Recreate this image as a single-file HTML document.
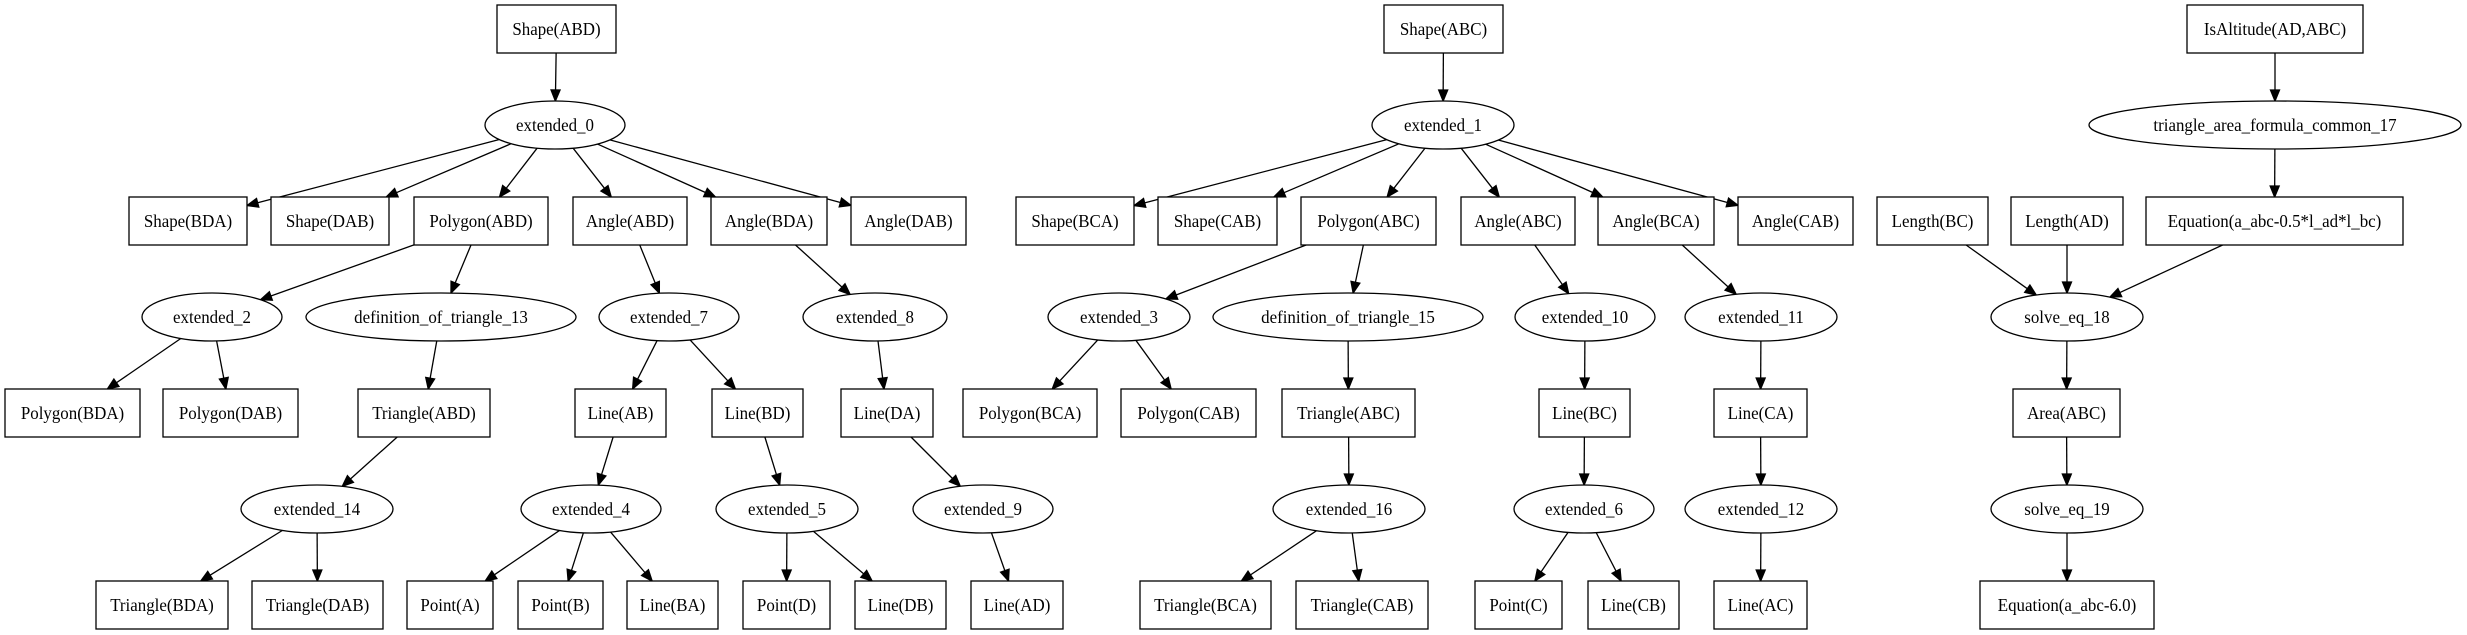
<!DOCTYPE html>
<html><head><meta charset="utf-8"><style>
html,body{margin:0;padding:0;background:#fff;}
svg{display:block;}
text{font-family:"Liberation Serif","Times New Roman",serif;font-size:18px;fill:#000;}
</style></head><body>
<svg id="g" xmlns="http://www.w3.org/2000/svg" width="2467" height="635" viewBox="0 0 2467 635"></svg>
<script>
var N={
sABD:['b',497,616,0,'Shape(ABD)'],e0:['e',555,70,1,'extended_0'],
sBDA:['b',129,247,2,'Shape(BDA)'],sDAB:['b',271,389,2,'Shape(DAB)'],pABD:['b',414,548,2,'Polygon(ABD)'],
aABD:['b',573,687,2,'Angle(ABD)'],aBDA:['b',711,827,2,'Angle(BDA)'],aDAB:['b',851,966,2,'Angle(DAB)'],
e2:['e',212,70,3,'extended_2'],d13:['e',441,135,3,'definition_of_triangle_13'],e7:['e',669,70,3,'extended_7'],e8:['e',875,72,3,'extended_8'],
pBDA:['b',5,140,4,'Polygon(BDA)'],pDAB:['b',163,298,4,'Polygon(DAB)'],tABD:['b',358,490,4,'Triangle(ABD)'],
lAB:['b',575,666,4,'Line(AB)'],lBD:['b',712,803,4,'Line(BD)'],lDA:['b',841,933,4,'Line(DA)'],
e14:['e',317,76,5,'extended_14'],e4:['e',591,70,5,'extended_4'],e5:['e',787,71,5,'extended_5'],e9:['e',983,70,5,'extended_9'],
tBDA:['b',96,228,6,'Triangle(BDA)'],tDAB:['b',252,383,6,'Triangle(DAB)'],ptA:['b',407,493,6,'Point(A)'],ptB:['b',518,603,6,'Point(B)'],
lBA:['b',627,718,6,'Line(BA)'],ptD:['b',743,830,6,'Point(D)'],lDB:['b',855,946,6,'Line(DB)'],lAD:['b',971,1063,6,'Line(AD)'],
sABC:['b',1384,1503,0,'Shape(ABC)'],e1:['e',1443,71,1,'extended_1'],
sBCA:['b',1016,1134,2,'Shape(BCA)'],sCAB:['b',1158,1277,2,'Shape(CAB)'],pABC:['b',1301,1436,2,'Polygon(ABC)'],
aABC:['b',1461,1575,2,'Angle(ABC)'],aBCA:['b',1598,1714,2,'Angle(BCA)'],aCAB:['b',1738,1853,2,'Angle(CAB)'],
e3:['e',1119,71,3,'extended_3'],d15:['e',1348,135,3,'definition_of_triangle_15'],e10:['e',1585,70,3,'extended_10'],e11:['e',1761,76,3,'extended_11'],
pBCA:['b',963,1097,4,'Polygon(BCA)'],pCAB:['b',1121,1256,4,'Polygon(CAB)'],tABC:['b',1282,1415,4,'Triangle(ABC)'],
lBC:['b',1539,1630,4,'Line(BC)'],lCA:['b',1714,1807,4,'Line(CA)'],
e16:['e',1349,76,5,'extended_16'],e6:['e',1584,70,5,'extended_6'],e12:['e',1761,76,5,'extended_12'],
tBCA:['b',1140,1271,6,'Triangle(BCA)'],tCAB:['b',1296,1428,6,'Triangle(CAB)'],ptC:['b',1475,1562,6,'Point(C)'],
lCB:['b',1588,1679,6,'Line(CB)'],lAC:['b',1714,1807,6,'Line(AC)'],
isA:['b',2187,2363,0,'IsAltitude(AD,ABC)'],t17:['e',2275,186,1,'triangle_area_formula_common_17'],
lenBC:['b',1877,1988,2,'Length(BC)'],lenAD:['b',2011,2123,2,'Length(AD)'],eq1:['b',2146,2403,2,'Equation(a_abc-0.5*l_ad*l_bc)'],
s18:['e',2067,76,3,'solve_eq_18'],area:['b',2013,2120,4,'Area(ABC)'],s19:['e',2067,76,5,'solve_eq_19'],eq2:['b',1980,2154,6,'Equation(a_abc-6.0)']
};
var E=[['sABD','e0'],['e0','sBDA'],['e0','sDAB'],['e0','pABD'],['e0','aABD'],['e0','aBDA'],['e0','aDAB'],
['pABD','e2'],['pABD','d13'],['aABD','e7'],['aBDA','e8'],['e2','pBDA'],['e2','pDAB'],['d13','tABD'],['e7','lAB'],['e7','lBD'],['e8','lDA'],
['tABD','e14'],['lAB','e4'],['lBD','e5'],['lDA','e9'],['e14','tBDA'],['e14','tDAB'],['e4','ptA'],['e4','ptB'],['e4','lBA'],['e5','ptD'],['e5','lDB'],['e9','lAD'],
['sABC','e1'],['e1','sBCA'],['e1','sCAB'],['e1','pABC'],['e1','aABC'],['e1','aBCA'],['e1','aCAB'],
['pABC','e3'],['pABC','d15'],['aABC','e10'],['aBCA','e11'],['e3','pBCA'],['e3','pCAB'],['d15','tABC'],['e10','lBC'],['e11','lCA'],
['tABC','e16'],['lBC','e6'],['lCA','e12'],['e16','tBCA'],['e16','tCAB'],['e6','ptC'],['e6','lCB'],['e12','lAC'],
['isA','t17'],['t17','eq1'],['lenBC','s18'],['lenAD','s18'],['eq1','s18'],['s18','area'],['area','s19'],['s19','eq2']];
function geo(n){var d=N[n];var cy=5+96*d[3]+24;
 if(d[0]=='b')return{t:'b',cx:(d[1]+d[2])/2,cy:cy,hw:(d[2]-d[1])/2,hh:24};
 return{t:'e',cx:d[1],cy:cy,rx:d[2],ry:24};}
function clip(g,dx,dy){var t;if(g.t=='b'){t=Math.min(dx?g.hw/Math.abs(dx):1e9,dy?g.hh/Math.abs(dy):1e9);}
 else t=1/Math.sqrt((dx/g.rx)*(dx/g.rx)+(dy/g.ry)*(dy/g.ry));return t;}
var s='';
E.forEach(function(e){var a=geo(e[0]),b=geo(e[1]);var dx=b.cx-a.cx,dy=b.cy-a.cy;
 var ta=clip(a,dx,dy),tb=clip(b,dx,dy);var x1=a.cx+dx*ta,y1=a.cy+dy*ta,x2=b.cx-dx*tb,y2=b.cy-dy*tb;
 var L=Math.hypot(x2-x1,y2-y1),ux=(x2-x1)/L,uy=(y2-y1)/L;var al=11,aw=4.5;
 var bx=x2-ux*al,by=y2-uy*al;
 s+='<line x1="'+x1+'" y1="'+y1+'" x2="'+bx+'" y2="'+by+'" stroke="#000" stroke-width="1.3"/>';
 s+='<polygon points="'+x2+','+y2+' '+(bx-uy*aw)+','+(by+ux*aw)+' '+(bx+uy*aw)+','+(by-ux*aw)+'" fill="#000" stroke="#000" stroke-width="1.3"/>';});
for(var k in N){var g=geo(k);
 if(g.t=='b')s+='<rect x="'+(g.cx-g.hw)+'" y="'+(g.cy-24)+'" width="'+(2*g.hw)+'" height="48" fill="#fff" stroke="#000" stroke-width="1.3"/>';
 else s+='<ellipse cx="'+g.cx+'" cy="'+g.cy+'" rx="'+g.rx+'" ry="24" fill="#fff" stroke="#000" stroke-width="1.3"/>';
 s+='<text transform="translate('+g.cx+','+(g.cy+6)+') scale(0.94,1)" x="0" y="0" text-anchor="middle">'+N[k][4]+'</text>';}
document.getElementById('g').innerHTML=s;
</script>
</body></html>
